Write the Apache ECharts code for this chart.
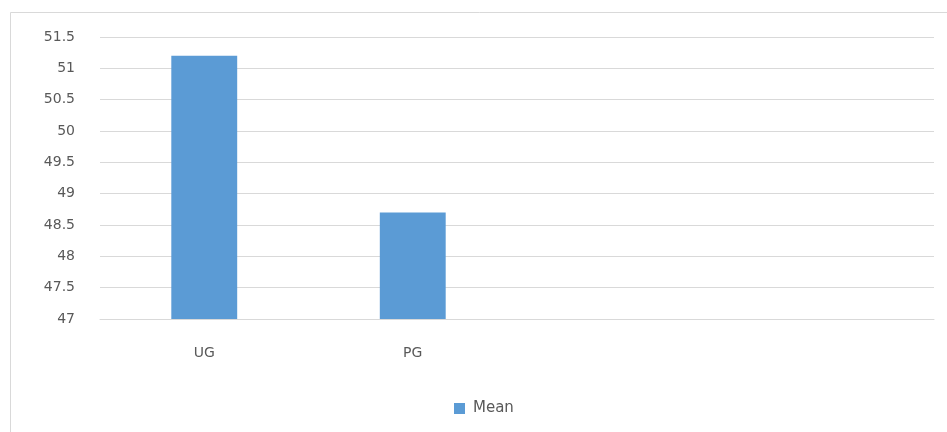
<!DOCTYPE html>
<html><head><meta charset="utf-8">
<script src="https://cdn.jsdelivr.net/npm/echarts@6/dist/echarts.min.js"></script>
<style>html,body{margin:0;padding:0;background:#fff}#c{width:947px;height:432px}</style>
</head><body><div id="c"></div>
<script>
var categories = ['UG', 'PG', '', ''];
var meanValues = [51.2, 48.7, null, null];
var seriesName = 'Mean';
var yMin = 47, yMax = 51.5, yStep = 0.5;

var chart = echarts.init(document.getElementById('c'), null, {renderer: 'canvas'});
var font = '"DejaVu Sans", "Noto Sans", sans-serif';
chart.setOption({
  animation: false,
  backgroundColor: '#fff',
  graphic: [{
    type: 'rect', silent: true, z: -10,
    shape: {x: 10.5, y: 12.5, width: 960, height: 440},
    style: {fill: 'none', stroke: '#d9d9d9', lineWidth: 1}
  }],
  grid: {left: 100, right: 13, top: 37, bottom: 113, containLabel: false},
  legend: {
    data: [seriesName], top: 401, left: 454, padding: 0,
    itemWidth: 11, itemHeight: 11, itemGap: 6,
    icon: 'rect',
    textStyle: {color: '#595959', fontSize: 15, fontFamily: font, padding: [0, 0, 0, 3]}
  },
  xAxis: {
    type: 'category', data: categories,
    axisLine: {show: true, lineStyle: {color: '#d9d9d9'}},
    axisTick: {show: false},
    axisLabel: {color: '#595959', fontSize: 14, fontFamily: font, margin: 27}
  },
  yAxis: {
    type: 'value', min: yMin, max: yMax, interval: yStep,
    axisLine: {show: false}, axisTick: {show: false},
    splitLine: {lineStyle: {color: '#d9d9d9', width: 1}},
    axisLabel: {color: '#595959', fontSize: 14, fontFamily: font, margin: 25,
      formatter: function (v) { return String(+v.toFixed(1)); }}
  },
  series: [{
    name: seriesName, type: 'bar', data: meanValues,
    barWidth: '31.6%',
    itemStyle: {color: '#5b9bd5'}
  }]
});
</script></body></html>
